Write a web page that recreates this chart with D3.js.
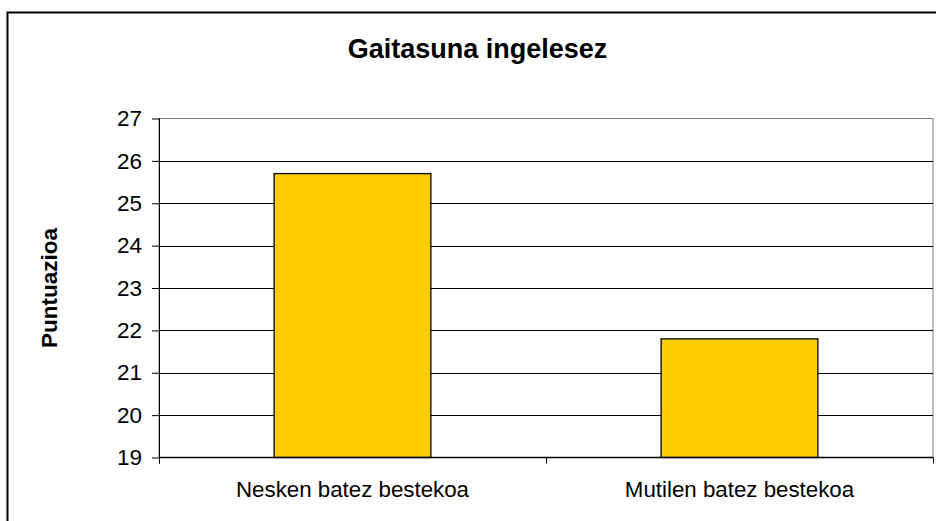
<!DOCTYPE html>
<html>
<head>
<meta charset="utf-8">
<script src="https://cdn.jsdelivr.net/npm/d3@7"></script>
<style>
  body { margin: 0; background: #fff; }
  svg { display: block; font-family: "Liberation Sans", Arial, sans-serif; }
</style>
</head>
<body>
<svg id="chart" width="936" height="521"></svg>
<script>
// ===== DATA =====
const categories = ["Nesken batez bestekoa", "Mutilen batez bestekoa"];
const scores = [25.7, 21.8];
const yTicks = [19, 20, 21, 22, 23, 24, 25, 26, 27];
const chartTitle = "Gaitasuna ingelesez";
const yTitle = "Puntuazioa";

const svg = d3.select("#chart");

// plot area
const plot = { left: 159, right: 933, top: 118.5, bottom: 457.5 };

// outer frame
svg.append("rect")
  .attr("x", 7.5).attr("y", 12.5)
  .attr("width", 950).attr("height", 530)
  .attr("fill", "none")
  .attr("stroke", "#000")
  .attr("stroke-width", 2);

const x = d3.scaleBand()
  .domain(categories)
  .range([plot.left, plot.right])
  .paddingInner(0.595)
  .paddingOuter(0.2975);

const y = d3.scaleLinear()
  .domain([19, 27])
  .range([plot.bottom, plot.top]);

// plot border (grey)
svg.append("rect")
  .attr("x", plot.left).attr("y", plot.top)
  .attr("width", plot.right - plot.left)
  .attr("height", plot.bottom - plot.top)
  .attr("fill", "#fff")
  .attr("stroke", "#808080")
  .attr("stroke-width", 1);

// gridlines
svg.append("g")
  .selectAll("line")
  .data(yTicks.filter(t => t > 19 && t < 27))
  .join("line")
  .attr("x1", plot.left).attr("x2", plot.right)
  .attr("y1", d => Math.round(y(d)) + 0.5)
  .attr("y2", d => Math.round(y(d)) + 0.5)
  .attr("stroke", "#000")
  .attr("stroke-width", 1);

// bars
svg.append("g")
  .selectAll("rect")
  .data(categories)
  .join("rect")
  .attr("x", d => x(d))
  .attr("y", (d, i) => y(scores[i]))
  .attr("width", x.bandwidth())
  .attr("height", (d, i) => y(19) - y(scores[i]))
  .attr("fill", "#ffcc00")
  .attr("stroke", "#000")
  .attr("stroke-width", 1.3);

// y axis
const yAxis = svg.append("g")
  .attr("transform", `translate(${plot.left},0)`)
  .call(d3.axisLeft(y).tickValues(yTicks).tickSize(7).tickPadding(10).tickFormat(d3.format("d")));
yAxis.select(".domain").attr("stroke", "#000").attr("d", `M0.5,${plot.top}V${plot.bottom + 6}`);
yAxis.selectAll(".tick line").attr("stroke", "#000");
yAxis.selectAll(".tick text")
  .attr("font-size", 22.5)
  .attr("fill", "#000")
  .attr("font-family", "Liberation Sans, Arial, sans-serif");

// x axis
const xEdges = [plot.left, (plot.left + plot.right) / 2, plot.right];
svg.append("line")
  .attr("x1", plot.left).attr("x2", plot.right)
  .attr("y1", plot.bottom).attr("y2", plot.bottom)
  .attr("stroke", "#000").attr("stroke-width", 1.3);
svg.append("g")
  .selectAll("line")
  .data(xEdges)
  .join("line")
  .attr("x1", d => Math.round(d) + 0.5).attr("x2", d => Math.round(d) + 0.5)
  .attr("y1", plot.bottom).attr("y2", plot.bottom + 6)
  .attr("stroke", "#000");

svg.append("g")
  .selectAll("text")
  .data(categories)
  .join("text")
  .attr("x", d => x(d) + x.bandwidth() / 2)
  .attr("y", 497)
  .attr("text-anchor", "middle")
  .attr("font-size", 22.3)
  .attr("fill", "#000")
  .text(d => d);

// titles
svg.append("text")
  .attr("x", 477.5)
  .attr("y", 58)
  .attr("text-anchor", "middle")
  .attr("font-size", 27)
  .attr("font-weight", "bold")
  .text(chartTitle);

svg.append("text")
  .attr("transform", "translate(57,288) rotate(-90)")
  .attr("text-anchor", "middle")
  .attr("font-size", 22.5)
  .attr("font-weight", "bold")
  .text(yTitle);
</script>
</body>
</html>
